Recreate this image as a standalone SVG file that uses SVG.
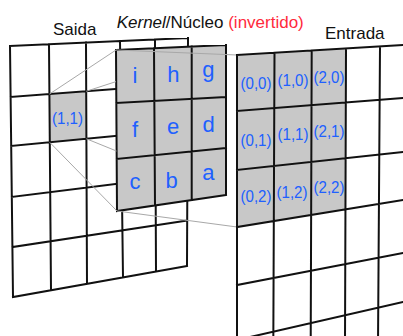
<svg xmlns="http://www.w3.org/2000/svg" width="403" height="336" viewBox="0 0 403 336">
<style>
.grid{fill:none;stroke:#111;stroke-width:2;stroke-linecap:square}
.gray{fill:#c8c8c8;stroke:none}
.proj{fill:none;stroke:#a8a8a8;stroke-width:1}
.title{font-family:"Liberation Sans",Arial,sans-serif;font-size:17px;fill:#111}
.red{fill:#ff2a3c}
.lbl{font-family:"Liberation Sans",Arial,sans-serif;font-size:17px;fill:#2060ff;text-anchor:middle}
.let{font-family:"Liberation Sans",Arial,sans-serif;font-size:22px;fill:#2060ff;text-anchor:middle}
</style>
<rect width="403" height="336" fill="#fff"/>

<g id="saida">
  <polygon class="gray" points="49.4,94.1 86.2,91.3 86.4,138.8 49.8,142.4"/>
  <path class="grid" d="M10,46 L188,38 M10.6,97 L188,83.6 M11.2,146 L187.8,129 M11.8,197 L187.6,175 M12.4,247 L187.3,220.5 M13,297 L187,266
    M10,46 L13,297 M49,44.2 L51,290.2 M86,42.6 L87,283.8 M120,41.1 L123,277.4 M155,39.5 L156,271.5 M188,38 L187,266"/>
  <text class="title" x="53" y="35">Saida</text>
  <text class="lbl" x="67.5" y="124" textLength="31" lengthAdjust="spacingAndGlyphs">(1,1)</text>
</g>

<g id="kernel">
  <polygon class="gray" points="116,50 226,45 226,195 117,211"/>
  <path class="grid" d="M116,50 L226,45 M116.3,103 L226,97 M116.7,159 L226,148 M117,211 L226,195
    M116,50 L117,211 M154,48.3 L155,205.4 M191.7,46.6 L191.7,200 M226,45 L226,195"/>
  <text class="title" x="116.7" y="28"><tspan font-style="italic">Kernel</tspan>/Núcleo <tspan class="red">(invertido)</tspan></text>
  <text class="let" x="135" y="82.5">i</text>
  <text class="let" x="173.3" y="82">h</text>
  <text class="let" x="208.3" y="77">g</text>
  <text class="let" x="135" y="137">f</text>
  <text class="let" x="173" y="134">e</text>
  <text class="let" x="208.7" y="131.5">d</text>
  <text class="let" x="135" y="188.5">c</text>
  <text class="let" x="171.7" y="187.5">b</text>
  <text class="let" x="208.3" y="179.5">a</text>
</g>

<g id="connectors">
  <path class="proj" d="M49.4,94.1 L116,50 M86.2,91.3 L116,81.6 M49.8,142.4 L117,211 M86.4,138.8 L116.5,151 M116,50 L237,55 M117,211 L237,227"/>
</g>

<g id="entrada">
  <polygon class="gray" points="237,55 346,48.5 346,209.3 237,227"/>
  <path class="grid" d="M237,55 L403,45 M237,111 L403,98 M237,170 L403,152 M237,227 L403,200 M237,285 L403,253 M237,340 L403,302
    M237,55 L237,345 M274.5,52.8 L273.3,345 M311.7,50.5 L310.7,345 M346,48.5 L345,345 M380,46.4 L378,345"/>
  <text class="title" x="325" y="39">Entrada</text>
  <text class="lbl" x="256" y="89" textLength="31" lengthAdjust="spacingAndGlyphs">(0,0)</text>
  <text class="lbl" x="293" y="86" textLength="31" lengthAdjust="spacingAndGlyphs">(1,0)</text>
  <text class="lbl" x="329" y="82.5" textLength="31" lengthAdjust="spacingAndGlyphs">(2,0)</text>
  <text class="lbl" x="256" y="146" textLength="31" lengthAdjust="spacingAndGlyphs">(0,1)</text>
  <text class="lbl" x="293" y="140" textLength="31" lengthAdjust="spacingAndGlyphs">(1,1)</text>
  <text class="lbl" x="329" y="136.5" textLength="31" lengthAdjust="spacingAndGlyphs">(2,1)</text>
  <text class="lbl" x="256" y="201.5" textLength="31" lengthAdjust="spacingAndGlyphs">(0,2)</text>
  <text class="lbl" x="292" y="198" textLength="31" lengthAdjust="spacingAndGlyphs">(1,2)</text>
  <text class="lbl" x="329" y="193" textLength="31" lengthAdjust="spacingAndGlyphs">(2,2)</text>
</g>
</svg>
